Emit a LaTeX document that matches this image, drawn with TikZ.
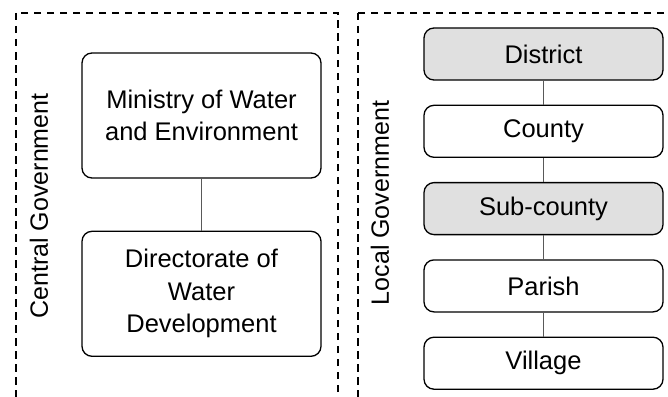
\documentclass[tikz,border=0pt]{standalone}
\usepackage{fontspec}
\setmainfont{Liberation Sans}
\usetikzlibrary{positioning}

\definecolor{shade}{RGB}{224,224,224}

\tikzset{
  unit/.style={draw, rounded corners=10pt, line width=1.3pt, align=center,
               minimum width=239pt, inner sep=0pt,
               font=\fontsize{25.5}{32.5}\selectfont},
  bigunit/.style={unit, minimum height=125pt},
  smallunit/.style={unit, minimum height=52pt},
  grey/.style={fill=shade},
  frame/.style={line width=1.3pt, dash pattern=on 7.5pt off 5.5pt},
  link/.style={line width=0.6pt, gray!70!black},
  side/.style={rotate=90, font=\fontsize{25}{30}\selectfont}
}

\begin{document}
\begin{tikzpicture}[x=1pt, y=-1pt]
    \useasboundingbox (0,0) rectangle (668,396);

    % the two dashed frames
    \draw[frame] (16,13) rectangle (338,412);
    \draw[frame] (358,13) rectangle (684,412);

    % central government
    \node[side]                           (central) at (39,206)     {Central Government};
    \node[bigunit]                        (ministry) at (201.5,115.5) {Ministry of Water\\and Environment};
    \node[bigunit, below=52pt of ministry] (directorate)            {Directorate of\\Water\\Development};

    % local government
    \node[side]                               (local)    at (380,203)  {Local Government};
    \node[smallunit, grey]                    (district) at (543.5,54) {District};
    \node[smallunit, below=24pt of district]  (county)                 {County};
    \node[smallunit, grey, below=24pt of county] (subcounty)           {Sub-county};
    \node[smallunit, below=24pt of subcounty] (parish)                 {Parish};
    \node[smallunit, below=24pt of parish]    (village)                {Village};

    \draw[link] (ministry) -- (directorate);
    \foreach \a/\b in {district/county, county/subcounty, subcounty/parish, parish/village}
        \draw[link] (\a) -- (\b);
\end{tikzpicture}
\end{document}
